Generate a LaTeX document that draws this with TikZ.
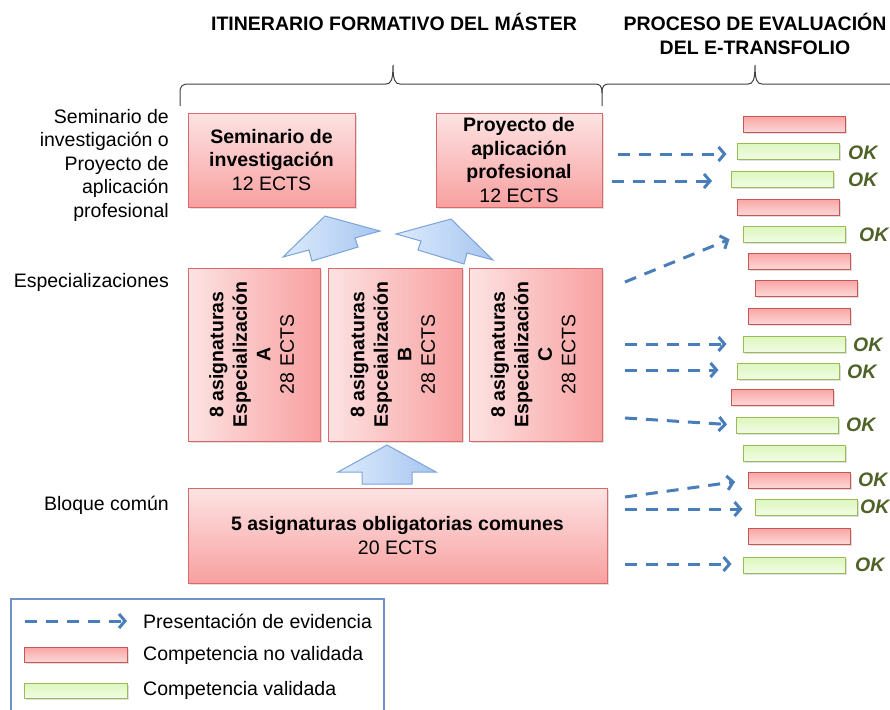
\documentclass[tikz,border=0pt]{standalone}
\usepackage{fontspec}
\setmainfont{Liberation Sans}
\usetikzlibrary{arrows.meta,shadows}
\definecolor{redL}{HTML}{FDE3E3}
\definecolor{redD}{HTML}{F8A0A0}
\definecolor{boxborder}{HTML}{D9696B}
\definecolor{barRedT}{HTML}{F9A5A5}
\definecolor{barRedB}{HTML}{FDD7D7}
\definecolor{barRedBorder}{HTML}{C85652}
\definecolor{barGreenT}{HTML}{DDF6BC}
\definecolor{barGreenB}{HTML}{F1FCE5}
\definecolor{barGreenBorder}{HTML}{9BBB59}
\definecolor{arrowblue}{HTML}{4A7EBB}
\definecolor{okgreen}{HTML}{4F6228}
\definecolor{blkL}{HTML}{DCEBFC}
\definecolor{blkD}{HTML}{A7C5F0}
\definecolor{blkBorder}{HTML}{7BA3DB}
\definecolor{legblue}{HTML}{6F93C8}
\newcommand\bigf{\fontsize{19.5}{23.5}\selectfont}
\begin{document}
\begin{tikzpicture}[x=1pt,y=-1pt,
  lab/.style={font=\bigf, inner sep=0pt},
  head/.style={font=\bigf\bfseries, inner sep=0pt, align=center},
  shad/.style={drop shadow={opacity=0.25, shadow xshift=1.5pt, shadow yshift=-1.5pt}},
  redbox/.style={shad, draw=boxborder, line width=1pt, top color=redL, bottom color=redD, inner sep=0pt, align=center, font=\bigf},
  specbox/.style={shad, draw=boxborder, line width=1pt, left color=redL, right color=redD, inner sep=0pt, align=center, font=\bigf},
  redbar/.style={shad, draw=barRedBorder, line width=1pt, top color=barRedT, bottom color=barRedB, minimum width=102pt, minimum height=16pt, inner sep=0pt},
  greenbar/.style={shad, draw=barGreenBorder, line width=1pt, top color=barGreenT, bottom color=barGreenB, minimum width=102pt, minimum height=16pt, inner sep=0pt},
  evid/.style={draw=arrowblue, line width=3pt, dash pattern=on 12pt off 9pt, -{Straight Barb[length=6pt,width=14pt]}},
  blockarrow/.style={draw=blkBorder, line width=1pt, left color=blkL, right color=blkD, line join=miter},
  bracestyle/.style={draw=black!75, line width=1pt},
  ok/.style={font=\bigf\bfseries\itshape, text=okgreen, anchor=west, inner sep=0pt}
]
\useasboundingbox (0,0) rectangle (890,709);

% headers
\node[head] (h1) at (394,22) {ITINERARIO FORMATIVO DEL MÁSTER};
\node[head] (h2) at (755,34) {PROCESO DE EVALUACIÓN\\DEL E-TRANSFOLIO};

% braces
\draw[bracestyle] (180,106) -- (180,93) .. controls (180,86) and (182,84) .. (189,84) -- (386,84)
  .. controls (391,84) and (393,80) .. (393,65) .. controls (393,80) and (395,84) .. (400,84)
  -- (595,84) .. controls (600,84) and (602,86) .. (602,93) -- (602,106);
\draw[bracestyle] (602,93) .. controls (602,86) and (604,84) .. (609,84) -- (748,84)
  .. controls (753,84) and (755,80) .. (755,65) .. controls (755,80) and (757,84) .. (762,84) -- (892,84);

% left labels
\node[lab, anchor=east, align=right] (l1) at (169,165) {Seminario de\\investigación o\\Proyecto de\\aplicación\\profesional};
\node[lab, anchor=east] (l2) at (169,282) {Especializaciones};
\node[lab, anchor=east] (l3) at (169,505) {Bloque común};

% itinerary boxes
\node[redbox, minimum width=167pt, minimum height=94pt] (sem) at (271.5,160)
  {\textbf{Seminario de}\\\textbf{investigación}\\12 ECTS};
\node[redbox, minimum width=166pt, minimum height=94pt] (pro) at (519,160)
  {\textbf{Proyecto de}\\\textbf{aplicación}\\\textbf{profesional}\\12 ECTS};
\node[specbox, minimum width=132pt, minimum height=173pt] (spA) at (254,354.5)
  {\rotatebox{90}{\begin{tabular}{@{}c@{}}\textbf{8 asignaturas}\\\textbf{Especialización}\\\textbf{A}\\28 ECTS\end{tabular}}};
\node[specbox, minimum width=134pt, minimum height=173pt] (spB) at (395,354.5)
  {\rotatebox{90}{\begin{tabular}{@{}c@{}}\textbf{8 asignaturas}\\\textbf{Espceialización}\\\textbf{B}\\28 ECTS\end{tabular}}};
\node[specbox, minimum width=133pt, minimum height=173pt] (spC) at (535.5,354.5)
  {\rotatebox{90}{\begin{tabular}{@{}c@{}}\textbf{8 asignaturas}\\\textbf{Especialización}\\\textbf{C}\\28 ECTS\end{tabular}}};
\node[redbox, minimum width=419pt, minimum height=95pt] (com) at (397.5,535.5)
  {\textbf{5 asignaturas obligatorias comunes}\\20 ECTS};

% block arrows
\path[blockarrow] (283,257) -- (325,216) -- (380,231) -- (355,238) -- (358,247) -- (312,261) -- (309,250) -- cycle;
\path[blockarrow] (493,260) -- (451,219) -- (396,234) -- (421,241) -- (418,250) -- (464,264) -- (467,253) -- cycle;
\path[blockarrow] (387,445) -- (436,472) -- (412,472) -- (412,484) -- (362,484) -- (362,472) -- (338,472) -- cycle;

% evaluation bars
\node[redbar]   (b1)  at (794,124) {};
\node[greenbar] (b2)  at (788,151) {};
\node[greenbar] (b3)  at (782.5,179) {};
\node[redbar]   (b4)  at (788,207) {};
\node[greenbar] (b5)  at (794,234) {};
\node[redbar]   (b6)  at (799.5,261) {};
\node[redbar]   (b7)  at (806,288) {};
\node[redbar]   (b8)  at (799.5,316) {};
\node[greenbar] (b9)  at (794,344) {};
\node[greenbar] (b10) at (788,371) {};
\node[redbar]   (b11) at (782.5,397) {};
\node[greenbar] (b12) at (787.5,425) {};
\node[greenbar] (b13) at (794,453) {};
\node[redbar]   (b14) at (799.5,480) {};
\node[greenbar] (b15) at (806,507) {};
\node[redbar]   (b16) at (799.5,536) {};
\node[greenbar] (b17) at (794,565) {};

% OK labels
\node[ok] (ok2)  at (848,153) {OK};
\node[ok] (ok3)  at (848,180) {OK};
\node[ok] (ok5)  at (859,235) {OK};
\node[ok] (ok9)  at (853,345) {OK};
\node[ok] (ok10) at (847,372) {OK};
\node[ok] (ok12) at (846,425) {OK};
\node[ok] (ok14) at (858,480) {OK};
\node[ok] (ok15) at (860,507) {OK};
\node[ok] (ok17) at (855,565) {OK};

% evidence arrows
\coordinate (e1) at (618,154);
\coordinate (e2) at (612,181);
\coordinate (e3) at (625,282);
\coordinate (e4) at (625,344);
\coordinate (e5) at (625,370);
\coordinate (e6) at (625,418);
\coordinate (e7) at (625,497);
\coordinate (e8) at (625,509);
\coordinate (e9) at (625,564);
\draw[evid, shorten >=10pt] (e1) -- (e1 -| b2.west);
\draw[evid, shorten >=19pt] (e2) -- (e2 -| b3.west);
\draw[evid, shorten >=14pt] (e3) -- (b5.west);
\draw[evid, shorten >=16pt] (e4) -- (e4 -| b9.west);
\draw[evid, shorten >=18pt] (e5) -- (e5 -| b10.west);
\draw[evid, shorten >=9pt]  (e6) -- (b12.west);
\draw[evid, shorten >=13pt] (e7) -- (b14.west);
\draw[evid, shorten >=12pt] (e8) -- (e8 -| b15.west);
\draw[evid, shorten >=11pt] (e9) -- (e9 -| b17.west);

% legend
\node[draw=legblue, line width=2pt, minimum width=373pt, minimum height=130pt, anchor=north west, inner sep=0pt] (leg) at (10,598) {};
\coordinate (la1) at (25,621);
\coordinate (la2) at (127,621);
\draw[evid] (la1) -- (la2);
\node[redbar, minimum width=103pt, minimum height=15pt] (lr) at (75.5,654.5) {};
\node[greenbar, minimum width=103pt, minimum height=15pt] (lg) at (75.5,690.5) {};
\node[lab, anchor=west] (lt1) at (143,621) {Presentación de evidencia};
\node[lab, anchor=west] (lt2) at (143,655) {Competencia no validada};
\node[lab, anchor=west] (lt3) at (143,690) {Competencia validada};
\end{tikzpicture}
\end{document}
